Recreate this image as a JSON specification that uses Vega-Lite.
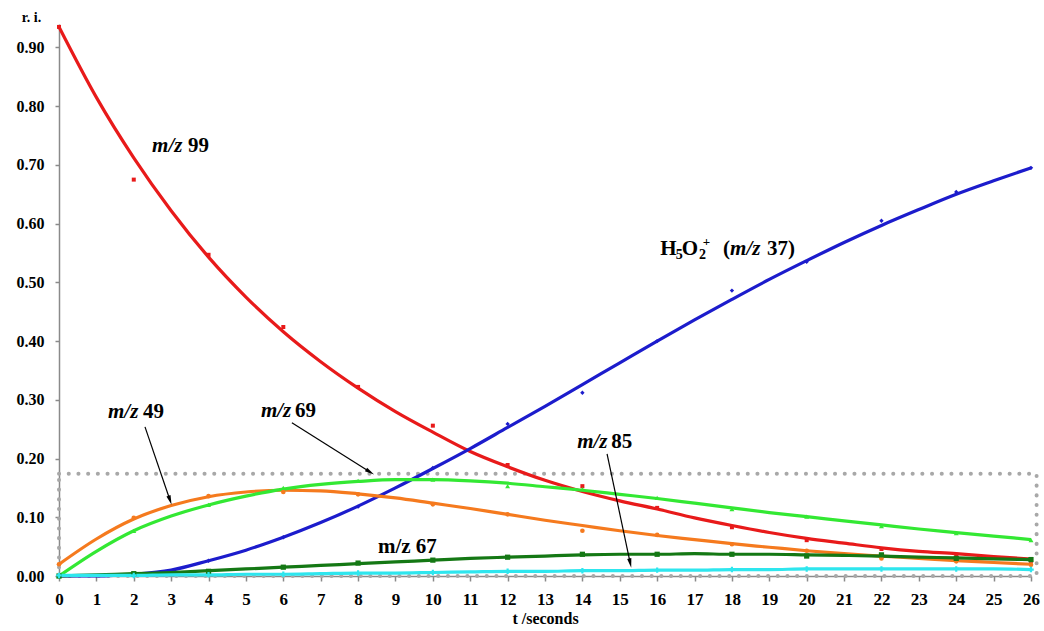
{
"$schema": "https://vega.github.io/schema/vega-lite/v6.json",
"width": 972, "height": 552,
"autosize": "none",
"padding": {"left": 59, "top": 24, "right": 13, "bottom": 55},
"background": "white",
"config": {"view": {"stroke": null}, "font": "Liberation Serif"},
"datasets": {
"fit": [
{"series":"m/z 99","t":0,"y":0.935},{"series":"m/z 99","t":1,"y":0.815},{"series":"m/z 99","t":2,"y":0.712},{"series":"m/z 99","t":3,"y":0.622},{"series":"m/z 99","t":4,"y":0.543},{"series":"m/z 99","t":5,"y":0.475},{"series":"m/z 99","t":6,"y":0.416},{"series":"m/z 99","t":7,"y":0.365},{"series":"m/z 99","t":8,"y":0.320},{"series":"m/z 99","t":9,"y":0.280},{"series":"m/z 99","t":10,"y":0.245},{"series":"m/z 99","t":11,"y":0.212},{"series":"m/z 99","t":12,"y":0.186},{"series":"m/z 99","t":13,"y":0.163},{"series":"m/z 99","t":14,"y":0.144},{"series":"m/z 99","t":15,"y":0.128},{"series":"m/z 99","t":16,"y":0.114},{"series":"m/z 99","t":17,"y":0.099},{"series":"m/z 99","t":18,"y":0.086},{"series":"m/z 99","t":19,"y":0.074},{"series":"m/z 99","t":20,"y":0.064},{"series":"m/z 99","t":21,"y":0.056},{"series":"m/z 99","t":22,"y":0.048},{"series":"m/z 99","t":23,"y":0.042},{"series":"m/z 99","t":24,"y":0.038},{"series":"m/z 99","t":25,"y":0.033},{"series":"m/z 99","t":26,"y":0.029},
{"series":"H5O2+","t":0,"y":0.0},{"series":"H5O2+","t":1,"y":0.0},{"series":"H5O2+","t":2,"y":0.003},{"series":"H5O2+","t":3,"y":0.010},{"series":"H5O2+","t":4,"y":0.026},{"series":"H5O2+","t":5,"y":0.044},{"series":"H5O2+","t":6,"y":0.066},{"series":"H5O2+","t":7,"y":0.091},{"series":"H5O2+","t":8,"y":0.119},{"series":"H5O2+","t":9,"y":0.150},{"series":"H5O2+","t":10,"y":0.183},{"series":"H5O2+","t":11,"y":0.217},{"series":"H5O2+","t":12,"y":0.253},{"series":"H5O2+","t":13,"y":0.289},{"series":"H5O2+","t":14,"y":0.326},{"series":"H5O2+","t":15,"y":0.363},{"series":"H5O2+","t":16,"y":0.400},{"series":"H5O2+","t":17,"y":0.436},{"series":"H5O2+","t":18,"y":0.471},{"series":"H5O2+","t":19,"y":0.505},{"series":"H5O2+","t":20,"y":0.537},{"series":"H5O2+","t":21,"y":0.568},{"series":"H5O2+","t":22,"y":0.597},{"series":"H5O2+","t":23,"y":0.624},{"series":"H5O2+","t":24,"y":0.650},{"series":"H5O2+","t":25,"y":0.673},{"series":"H5O2+","t":26,"y":0.695},
{"series":"m/z 49","t":0,"y":0.020},{"series":"m/z 49","t":1,"y":0.063},{"series":"m/z 49","t":2,"y":0.097},{"series":"m/z 49","t":3,"y":0.120},{"series":"m/z 49","t":4,"y":0.135},{"series":"m/z 49","t":5,"y":0.143},{"series":"m/z 49","t":6,"y":0.146},{"series":"m/z 49","t":7,"y":0.145},{"series":"m/z 49","t":8,"y":0.140},{"series":"m/z 49","t":9,"y":0.133},{"series":"m/z 49","t":10,"y":0.124},{"series":"m/z 49","t":11,"y":0.115},{"series":"m/z 49","t":12,"y":0.105},{"series":"m/z 49","t":13,"y":0.095},{"series":"m/z 49","t":14,"y":0.086},{"series":"m/z 49","t":15,"y":0.077},{"series":"m/z 49","t":16,"y":0.069},{"series":"m/z 49","t":17,"y":0.062},{"series":"m/z 49","t":18,"y":0.055},{"series":"m/z 49","t":19,"y":0.049},{"series":"m/z 49","t":20,"y":0.043},{"series":"m/z 49","t":21,"y":0.038},{"series":"m/z 49","t":22,"y":0.034},{"series":"m/z 49","t":23,"y":0.030},{"series":"m/z 49","t":24,"y":0.026},{"series":"m/z 49","t":25,"y":0.023},{"series":"m/z 49","t":26,"y":0.020},
{"series":"m/z 69","t":0,"y":0.0},{"series":"m/z 69","t":1,"y":0.042},{"series":"m/z 69","t":2,"y":0.077},{"series":"m/z 69","t":3,"y":0.102},{"series":"m/z 69","t":4,"y":0.121},{"series":"m/z 69","t":5,"y":0.136},{"series":"m/z 69","t":6,"y":0.148},{"series":"m/z 69","t":7,"y":0.156},{"series":"m/z 69","t":8,"y":0.161},{"series":"m/z 69","t":9,"y":0.164},{"series":"m/z 69","t":10,"y":0.164},{"series":"m/z 69","t":11,"y":0.162},{"series":"m/z 69","t":12,"y":0.158},{"series":"m/z 69","t":13,"y":0.152},{"series":"m/z 69","t":14,"y":0.146},{"series":"m/z 69","t":15,"y":0.139},{"series":"m/z 69","t":16,"y":0.132},{"series":"m/z 69","t":17,"y":0.124},{"series":"m/z 69","t":18,"y":0.116},{"series":"m/z 69","t":19,"y":0.108},{"series":"m/z 69","t":20,"y":0.101},{"series":"m/z 69","t":21,"y":0.094},{"series":"m/z 69","t":22,"y":0.087},{"series":"m/z 69","t":23,"y":0.080},{"series":"m/z 69","t":24,"y":0.074},{"series":"m/z 69","t":25,"y":0.068},{"series":"m/z 69","t":26,"y":0.062},
{"series":"m/z 67","t":0,"y":0.0},{"series":"m/z 67","t":1,"y":0.002},{"series":"m/z 67","t":2,"y":0.004},{"series":"m/z 67","t":3,"y":0.006},{"series":"m/z 67","t":4,"y":0.009},{"series":"m/z 67","t":5,"y":0.012},{"series":"m/z 67","t":6,"y":0.015},{"series":"m/z 67","t":7,"y":0.018},{"series":"m/z 67","t":8,"y":0.021},{"series":"m/z 67","t":9,"y":0.024},{"series":"m/z 67","t":10,"y":0.027},{"series":"m/z 67","t":11,"y":0.030},{"series":"m/z 67","t":12,"y":0.032},{"series":"m/z 67","t":13,"y":0.034},{"series":"m/z 67","t":14,"y":0.036},{"series":"m/z 67","t":15,"y":0.037},{"series":"m/z 67","t":16,"y":0.037},{"series":"m/z 67","t":17,"y":0.038},{"series":"m/z 67","t":18,"y":0.037},{"series":"m/z 67","t":19,"y":0.037},{"series":"m/z 67","t":20,"y":0.036},{"series":"m/z 67","t":21,"y":0.035},{"series":"m/z 67","t":22,"y":0.034},{"series":"m/z 67","t":23,"y":0.032},{"series":"m/z 67","t":24,"y":0.031},{"series":"m/z 67","t":25,"y":0.029},{"series":"m/z 67","t":26,"y":0.028},
{"series":"m/z 85","t":0,"y":0.001},{"series":"m/z 85","t":1,"y":0.001},{"series":"m/z 85","t":2,"y":0.001},{"series":"m/z 85","t":3,"y":0.002},{"series":"m/z 85","t":4,"y":0.002},{"series":"m/z 85","t":5,"y":0.003},{"series":"m/z 85","t":6,"y":0.003},{"series":"m/z 85","t":7,"y":0.004},{"series":"m/z 85","t":8,"y":0.005},{"series":"m/z 85","t":9,"y":0.005},{"series":"m/z 85","t":10,"y":0.006},{"series":"m/z 85","t":11,"y":0.007},{"series":"m/z 85","t":12,"y":0.008},{"series":"m/z 85","t":13,"y":0.008},{"series":"m/z 85","t":14,"y":0.009},{"series":"m/z 85","t":15,"y":0.009},{"series":"m/z 85","t":16,"y":0.010},{"series":"m/z 85","t":17,"y":0.010},{"series":"m/z 85","t":18,"y":0.011},{"series":"m/z 85","t":19,"y":0.011},{"series":"m/z 85","t":20,"y":0.012},{"series":"m/z 85","t":21,"y":0.012},{"series":"m/z 85","t":22,"y":0.012},{"series":"m/z 85","t":23,"y":0.012},{"series":"m/z 85","t":24,"y":0.012},{"series":"m/z 85","t":25,"y":0.012},{"series":"m/z 85","t":26,"y":0.011}
],
"obs": [
{"series":"m/z 99","t":0,"y":0.935},{"series":"m/z 99","t":2,"y":0.675},{"series":"m/z 99","t":4,"y":0.547},{"series":"m/z 99","t":6,"y":0.424},{"series":"m/z 99","t":8,"y":0.322},{"series":"m/z 99","t":10,"y":0.256},{"series":"m/z 99","t":12,"y":0.189},{"series":"m/z 99","t":14,"y":0.153},{"series":"m/z 99","t":16,"y":0.116},{"series":"m/z 99","t":18,"y":0.083},{"series":"m/z 99","t":20,"y":0.061},{"series":"m/z 99","t":22,"y":0.046},{"series":"m/z 99","t":24,"y":0.036},{"series":"m/z 99","t":26,"y":0.026},
{"series":"H5O2+","t":0,"y":0.0},{"series":"H5O2+","t":2,"y":0.002},{"series":"H5O2+","t":4,"y":0.026},{"series":"H5O2+","t":6,"y":0.066},{"series":"H5O2+","t":8,"y":0.118},{"series":"H5O2+","t":10,"y":0.184},{"series":"H5O2+","t":12,"y":0.259},{"series":"H5O2+","t":14,"y":0.312},{"series":"H5O2+","t":16,"y":0.400},{"series":"H5O2+","t":18,"y":0.486},{"series":"H5O2+","t":20,"y":0.535},{"series":"H5O2+","t":22,"y":0.605},{"series":"H5O2+","t":24,"y":0.654},{"series":"H5O2+","t":26,"y":0.695},
{"series":"m/z 49","t":0,"y":0.020},{"series":"m/z 49","t":2,"y":0.099},{"series":"m/z 49","t":4,"y":0.136},{"series":"m/z 49","t":6,"y":0.143},{"series":"m/z 49","t":8,"y":0.139},{"series":"m/z 49","t":10,"y":0.122},{"series":"m/z 49","t":12,"y":0.105},{"series":"m/z 49","t":14,"y":0.077},{"series":"m/z 49","t":16,"y":0.070},{"series":"m/z 49","t":18,"y":0.054},{"series":"m/z 49","t":20,"y":0.043},{"series":"m/z 49","t":22,"y":0.030},{"series":"m/z 49","t":24,"y":0.025},{"series":"m/z 49","t":26,"y":0.019},
{"series":"m/z 69","t":0,"y":0.0},{"series":"m/z 69","t":2,"y":0.077},{"series":"m/z 69","t":4,"y":0.121},{"series":"m/z 69","t":6,"y":0.150},{"series":"m/z 69","t":8,"y":0.162},{"series":"m/z 69","t":10,"y":0.164},{"series":"m/z 69","t":12,"y":0.153},{"series":"m/z 69","t":14,"y":0.148},{"series":"m/z 69","t":16,"y":0.133},{"series":"m/z 69","t":18,"y":0.114},{"series":"m/z 69","t":20,"y":0.101},{"series":"m/z 69","t":22,"y":0.085},{"series":"m/z 69","t":24,"y":0.073},{"series":"m/z 69","t":26,"y":0.061},
{"series":"m/z 67","t":0,"y":0.0},{"series":"m/z 67","t":2,"y":0.004},{"series":"m/z 67","t":4,"y":0.008},{"series":"m/z 67","t":6,"y":0.015},{"series":"m/z 67","t":8,"y":0.022},{"series":"m/z 67","t":10,"y":0.027},{"series":"m/z 67","t":12,"y":0.032},{"series":"m/z 67","t":14,"y":0.037},{"series":"m/z 67","t":16,"y":0.037},{"series":"m/z 67","t":18,"y":0.037},{"series":"m/z 67","t":20,"y":0.034},{"series":"m/z 67","t":22,"y":0.036},{"series":"m/z 67","t":24,"y":0.030},{"series":"m/z 67","t":26,"y":0.028},
{"series":"m/z 85","t":0,"y":0.001},{"series":"m/z 85","t":2,"y":0.001},{"series":"m/z 85","t":4,"y":0.002},{"series":"m/z 85","t":6,"y":0.003},{"series":"m/z 85","t":8,"y":0.005},{"series":"m/z 85","t":10,"y":0.006},{"series":"m/z 85","t":12,"y":0.008},{"series":"m/z 85","t":14,"y":0.009},{"series":"m/z 85","t":16,"y":0.010},{"series":"m/z 85","t":18,"y":0.011},{"series":"m/z 85","t":20,"y":0.012},{"series":"m/z 85","t":22,"y":0.012},{"series":"m/z 85","t":24,"y":0.012},{"series":"m/z 85","t":26,"y":0.011}
],
"box": [{"t":0,"t2":26.15,"y":0,"y2":0.174}],
"arrows": [
{"label":"m/z 49","t":2.30,"y":0.254,"t2":2.97,"y2":0.129},
{"label":"m/z 69","t":6.23,"y":0.261,"t2":8.32,"y2":0.177},
{"label":"m/z 85","t":14.66,"y":0.208,"t2":15.28,"y2":0.022}
],
"labelsItalic": [
{"t":2.49,"y":0.722,"text":"m/z"},
{"t":1.31,"y":0.269,"text":"m/z"},
{"t":5.40,"y":0.271,"text":"m/z"},
{"t":13.86,"y":0.218,"text":"m/z"},
{"t":17.95,"y":0.547,"text":"m/z"}
],
"labelsRoman": [
{"t":3.45,"y":0.722,"text":"99"},
{"t":2.25,"y":0.269,"text":"49"},
{"t":6.31,"y":0.271,"text":"69"},
{"t":14.77,"y":0.218,"text":"85"},
{"t":8.53,"y":0.039,"text":"m/z 67"},
{"t":16.08,"y":0.547,"text":"H"},
{"t":16.66,"y":0.547,"text":"O"},
{"t":17.76,"y":0.547,"text":"("},
{"t":18.94,"y":0.547,"text":"37)"}
],
"labelsSub": [
{"t":16.50,"y":0.547,"text":"5"},
{"t":17.12,"y":0.547,"text":"2"}
],
"labelsSup": [
{"t":17.22,"y":0.547,"text":"+"}
]
},
"encoding": {
"x": {"field":"t","type":"quantitative","scale":{"domain":[0,26],"nice":false,"zero":false},
"axis":{"title":"t /seconds","values":[0,1,2,3,4,5,6,7,8,9,10,11,12,13,14,15,16,17,18,19,20,21,22,23,24,25,26],"format":"d","grid":false,"domainColor":"#8a8a8a","domainWidth":1.5,"tickColor":"#8a8a8a","tickSize":5,"tickWidth":1.5,"labelFont":"Liberation Serif","labelFontWeight":"bold","labelFontSize":17,"labelColor":"#000","labelPadding":10,"labelFlush":false,"labelOverlap":false,"titleFont":"Liberation Serif","titleFontWeight":"bold","titleFontSize":16,"titleColor":"#000","titlePadding":3}},
"y": {"field":"y","type":"quantitative","scale":{"domain":[0,0.94],"nice":false,"zero":false},
"axis":{"title":"r. i.","values":[0,0.1,0.2,0.3,0.4,0.5,0.6,0.7,0.8,0.9],"format":".2f","grid":false,"domainColor":"#8a8a8a","domainWidth":1.5,"tickColor":"#8a8a8a","tickSize":4,"tickWidth":1.5,"labelFont":"Liberation Serif","labelFontWeight":"bold","labelFontSize":16,"labelColor":"#000","labelPadding":11,"labelFlush":false,"labelOverlap":false,"titleFont":"Liberation Serif","titleFontWeight":"bold","titleFontSize":14,"titleColor":"#000","titleAngle":0,"titleX":-28,"titleY":-3,"titleAlign":"center","titleBaseline":"alphabetic"}}
},
"layer": [
{"data":{"name":"box"},"mark":{"type":"rect","fill":null,"stroke":"#a8a8a8","strokeWidth":4,"strokeDash":[0.1,9.6],"strokeCap":"round"},
 "encoding":{"x2":{"field":"t2"},"y2":{"field":"y2"}}},
{"data":{"name":"fit"},"mark":{"type":"line","interpolate":"monotone","strokeWidth":3.2},
 "encoding":{"detail":{"field":"series"},"color":{"field":"series","type":"nominal","legend":null,
  "scale":{"domain":["m/z 99","H5O2+","m/z 49","m/z 69","m/z 67","m/z 85"],"range":["#e81a1a","#1c1ccc","#f57a1e","#33e833","#147814","#2ee6ee"]}}}},
{"data":{"name":"obs"},"mark":{"type":"point","filled":true,"opacity":1},
 "encoding":{"color":{"field":"series","type":"nominal","legend":null,
  "scale":{"domain":["m/z 99","H5O2+","m/z 49","m/z 69","m/z 67","m/z 85"],"range":["#e81a1a","#1c1ccc","#f57a1e","#33e833","#147814","#2ee6ee"]}},
  "shape":{"field":"series","type":"nominal","legend":null,
  "scale":{"domain":["m/z 99","H5O2+","m/z 49","m/z 69","m/z 67","m/z 85"],"range":["square","diamond","circle","triangle-up","square","cross"]}},
  "size":{"field":"series","type":"nominal","legend":null,
  "scale":{"domain":["m/z 99","H5O2+","m/z 49","m/z 69","m/z 67","m/z 85"],"range":[16,30,40,36,34,30]}}}},
{"data":{"name":"arrows"},"mark":{"type":"rule","color":"#000","strokeWidth":1.2},
 "encoding":{"x2":{"field":"t2"},"y2":{"field":"y2"}}},
{"data":{"name":"arrows"},"transform":[{"filter":"datum.label == 'm/z 49'"}],"mark":{"type":"point","shape":"M0,-1L0.45,1L-0.45,1Z","filled":true,"color":"#000","size":90,"angle":161,"opacity":1},
 "encoding":{"x":{"field":"t2","type":"quantitative"},"y":{"field":"y2","type":"quantitative"}}},
{"data":{"name":"arrows"},"transform":[{"filter":"datum.label == 'm/z 69'"}],"mark":{"type":"point","shape":"M0,-1L0.45,1L-0.45,1Z","filled":true,"color":"#000","size":90,"angle":122,"opacity":1},
 "encoding":{"x":{"field":"t2","type":"quantitative"},"y":{"field":"y2","type":"quantitative"}}},
{"data":{"name":"arrows"},"transform":[{"filter":"datum.label == 'm/z 85'"}],"mark":{"type":"point","shape":"M0,-1L0.45,1L-0.45,1Z","filled":true,"color":"#000","size":90,"angle":168,"opacity":1},
 "encoding":{"x":{"field":"t2","type":"quantitative"},"y":{"field":"y2","type":"quantitative"}}},
{"data":{"name":"labelsItalic"},"mark":{"type":"text","align":"left","baseline":"alphabetic","font":"Liberation Serif","fontWeight":"bold","fontStyle":"italic","fontSize":21,"color":"#000"},
 "encoding":{"text":{"field":"text"}}},
{"data":{"name":"labelsRoman"},"mark":{"type":"text","align":"left","baseline":"alphabetic","font":"Liberation Serif","fontWeight":"bold","fontSize":21,"color":"#000"},
 "encoding":{"text":{"field":"text"}}},
{"data":{"name":"labelsSub"},"mark":{"type":"text","align":"left","baseline":"alphabetic","font":"Liberation Serif","fontWeight":"bold","fontSize":14,"dy":4,"color":"#000"},
 "encoding":{"text":{"field":"text"}}},
{"data":{"name":"labelsSup"},"mark":{"type":"text","align":"left","baseline":"alphabetic","font":"Liberation Serif","fontWeight":"bold","fontSize":13,"dy":-9,"color":"#000"},
 "encoding":{"text":{"field":"text"}}}
]
}
